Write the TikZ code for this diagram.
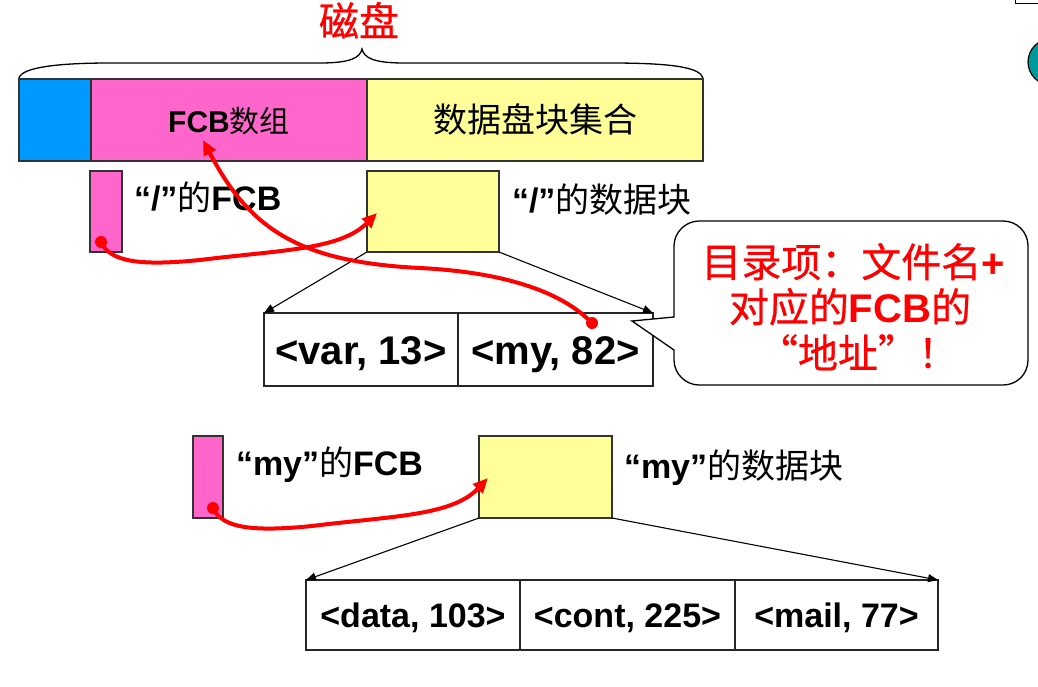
\documentclass[tikz,border=0pt]{standalone}
\usepackage{fontspec}
\setmainfont{Liberation Sans}
\newfontfamily\cjk{Noto Sans CJK SC}
\newfontfamily\cjkb[FakeBold=0.7]{Noto Sans CJK SC}
\usetikzlibrary{arrows.meta}
\definecolor{diskblue}{HTML}{0099FF}
\definecolor{fcbpink}{HTML}{FF66CC}
\definecolor{blkyellow}{HTML}{FFFF99}
\definecolor{tealc}{HTML}{009999}
\newcommand{\fs}[1]{\fontsize{#1}{#1}\selectfont}
\begin{document}
\begin{tikzpicture}[x=1pt,y=-1pt,
  seg/.style={draw=black!80, line width=1.3pt, anchor=north west, inner sep=0pt, outer sep=0pt},
  cell/.style={draw=black!85, line width=1.2pt, anchor=north west, inner sep=0pt, outer sep=0pt},
  lbl/.style={anchor=base west, inner sep=0pt, outer sep=0pt},
  ptr/.style={-{Triangle[length=10pt,width=8pt]}, line width=1.1pt},
  redlink/.style={draw=red, line width=4pt, -{Triangle[length=15pt,width=13pt]}},
  calltext/.style={anchor=base, inner sep=0pt, text=red, font=\fs{40}},
  ]
\useasboundingbox (0,0) rectangle (1038,686);
\clip (0,0) rectangle (1038,686);

% top-right fragments
\draw[line width=1pt] (1015,-2) -- (1015,3) -- (1040,3);
\draw[fill=tealc, line width=1.2pt] (1051,62) circle (23);

% title and brace
\node[anchor=base, inner sep=0pt, text=red, font=\fs{40}\cjkb] (disk) at (359,36) {磁盘};
\draw[line width=1.3pt] (19,78) .. controls (22,67) and (60,63) .. (110,63) -- (320,63)
  .. controls (350,63) and (360,58) .. (362,49) .. controls (364,58) and (374,63) .. (404,63)
  -- (610,63) .. controls (670,63) and (700,67) .. (703,78);

% disk bar
\node[seg, fill=diskblue, minimum width=72, minimum height=82] (boot) at (19,79) {};
\node[seg, fill=fcbpink, minimum width=276, minimum height=82, text height=25pt, text depth=0pt, font=\fs{30}] (fcbarr) at (91,79) {{\bfseries FCB}{\cjk 数组}};
\node[seg, fill=blkyellow, minimum width=336, minimum height=82, text height=25pt, text depth=0pt, font=\fs{34}\cjk] (dataset) at (367,79) {数据盘块集合};

% root level
\node[seg, fill=fcbpink, minimum width=32, minimum height=81] (rootfcb) at (90,171) {};
\node[seg, fill=blkyellow, minimum width=132, minimum height=81] (rootblk) at (367,171) {};
\node[lbl, font=\fs{34}] (rootfcbl) at (134,210) {{\bfseries “/”}{\cjk 的}{\bfseries FCB}};
\node[lbl, font=\fs{34}] (rootblkl) at (512,212) {{\bfseries “/”}{\cjk 的数据块}};

\node[cell, minimum width=194, minimum height=73, text height=30pt, text depth=0pt, font=\fs{40}\bfseries] (var) at (264,313) {<var, 13>};
\node[cell, minimum width=195, minimum height=73, text height=30pt, text depth=0pt, font=\fs{40}\bfseries] (my) at (458,313) {<my, 82>};
\draw[ptr] (rootblk.south west) -- (var.north west);
\draw[ptr] (rootblk.south east) -- (my.north east);

% callout
\draw[line width=1.3pt, fill=white] (632,321) -- (674,317) -- (674,246)
  .. controls (674,232) and (686,221) .. (699,221) -- (1003,221)
  .. controls (1017,221) and (1028,232) .. (1028,246) -- (1028,360)
  .. controls (1028,374) and (1017,385) .. (1003,385) -- (699,385)
  .. controls (686,385) and (674,374) .. (674,360) -- (674,350) -- cycle;
\node[calltext] (c1) at (853,277) {{\cjkb 目录项：文件名}{\bfseries +}};
\node[calltext] (c2) at (850,322) {{\cjkb 对应的}{\bfseries FCB}{\cjkb 的}};
\node[calltext] (c3) at (858,368) {{\cjkb “地址”！}};

% my level
\node[seg, fill=fcbpink, minimum width=30, minimum height=82] (myfcb) at (193,436) {};
\node[seg, fill=blkyellow, minimum width=133, minimum height=82] (myblk) at (479,436) {};
\node[lbl, font=\fs{34}] (myfcbl) at (236,475) {{\bfseries “my”}{\cjk 的}{\bfseries FCB}};
\node[lbl, font=\fs{34}] (myblkl) at (624,478) {{\bfseries “my”}{\cjk 的数据块}};

\node[cell, minimum width=214, minimum height=70, text height=25pt, text depth=0pt, font=\fs{34}\bfseries] (data) at (306,580) {<data, 103>};
\node[cell, minimum width=215, minimum height=70, text height=25pt, text depth=0pt, font=\fs{34}\bfseries] (cont) at (520,580) {<cont, 225>};
\node[cell, minimum width=203, minimum height=70, text height=25pt, text depth=0pt, font=\fs{34}\bfseries] (mail) at (735,580) {<mail, 77>};
\draw[ptr] (myblk.south west) -- (data.north west);
\draw[ptr] (myblk.south east) -- (mail.north east);

% red links
\coordinate (d1) at (101,242);
\coordinate (a1) at (377,213);
\draw[redlink] (d1) .. controls (110,262) and (140,266) .. (200,260) .. controls (280,250) and (340,250) .. (a1);
\fill[red] (d1) circle (6);

\coordinate (d2) at (592,323);
\coordinate (a2) at (203,140);
\draw[redlink] (d2) .. controls (560,290) and (500,272) .. (420,268) .. controls (300,262) and (250,230) .. (a2);
\fill[red] (d2) circle (6);

\coordinate (d3) at (213,508);
\coordinate (a3) at (488,478);
\draw[redlink] (d3) .. controls (222,528) and (252,532) .. (312,526) .. controls (392,516) and (452,516) .. (a3);
\fill[red] (d3) circle (6);
\end{tikzpicture}
\end{document}
